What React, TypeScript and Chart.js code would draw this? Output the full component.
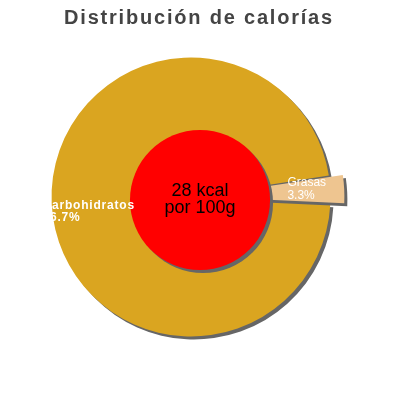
import { useEffect, useRef } from 'react'
import { Chart, registerables } from 'chart.js'

Chart.register(...registerables)

const titleText = 'Distribución de calorías'
const categories = ['Carbohidratos', 'Grasas']
const percentages = [96.7, 3.3]
const sliceColors = ['#daa520', '#eec590']
const sliceOffsets = [0, 31]
const centerLines = ['28 kcal', 'por 100g']

// label placement: fraction of the radius along the slice's mid angle, plus a vertical nudge
const labelRadius = [1.066, 0.692]
const labelNudge = [4, -6]
const labelFonts = [
  'bold 12px "Liberation Sans", Arial, sans-serif',
  '12px "Liberation Sans", Arial, sans-serif',
]
const labelSpacing = ['0.8px', '0px']

const SHADOW = '#666666'

const decorPlugin = {
  id: 'decor',
  beforeDatasetsDraw(chart: Chart) {
    const ctx = chart.ctx
    ctx.save()
    ctx.shadowColor = SHADOW
    ctx.shadowOffsetX = 3
    ctx.shadowOffsetY = 3
    ctx.shadowBlur = 0
  },
  afterDatasetsDraw(chart: Chart) {
    const ctx = chart.ctx
    ctx.restore()

    const arcs = chart.getDatasetMeta(0).data as any[]
    if (!arcs.length) return
    const outer = arcs[0].outerRadius
    const cx = chart.width / 2
    const cy = chart.height / 2

    // red disc in the middle
    ctx.save()
    ctx.shadowColor = SHADOW
    ctx.shadowOffsetX = 3
    ctx.shadowOffsetY = 3
    ctx.fillStyle = '#ff0000'
    ctx.beginPath()
    ctx.arc(cx, cy, outer * 0.502, 0, Math.PI * 2)
    ctx.fill()
    ctx.restore()

    ctx.save()
    ctx.fillStyle = '#000000'
    ctx.font = '18px "Liberation Sans", Arial, sans-serif'
    ctx.textAlign = 'center'
    ctx.textBaseline = 'alphabetic'
    ctx.fillText(centerLines[0], cx, cy - 4)
    ctx.fillText(centerLines[1], cx, cy + 13)
    ctx.restore()

    // slice labels
    arcs.forEach((arc, i) => {
      const { x, y, startAngle, endAngle, outerRadius } = arc.getProps(
        ['x', 'y', 'startAngle', 'endAngle', 'outerRadius'],
        true
      )
      const mid = (startAngle + endAngle) / 2
      const r = outerRadius * labelRadius[i]
      const lx = x + Math.cos(mid) * r
      const ly = y + Math.sin(mid) * r + labelNudge[i]
      ctx.save()
      ctx.fillStyle = '#ffffff'
      ctx.font = labelFonts[i]
      ;(ctx as any).letterSpacing = labelSpacing[i]
      ctx.textAlign = 'left'
      ctx.textBaseline = 'alphabetic'
      ctx.fillText(categories[i], lx, ly)
      ctx.fillText(percentages[i].toFixed(1) + '%', lx, ly + 12.5)
      ctx.restore()
    })
  },
  afterDraw(chart: Chart) {
    const ctx = chart.ctx
    ctx.save()
    ctx.fillStyle = '#444444'
    ctx.font = 'bold 20px "Liberation Sans", Arial, sans-serif'
    ;(ctx as any).letterSpacing = '1.8px'
    ctx.textAlign = 'center'
    ctx.textBaseline = 'alphabetic'
    ctx.fillText(titleText, chart.width / 2 - 1, 24)
    ctx.restore()
  },
}

export default function App() {
  const chartRef = useRef<HTMLCanvasElement>(null)
  const chartInstance = useRef<Chart | null>(null)

  useEffect(() => {
    if (!chartRef.current) return
    if (chartInstance.current) chartInstance.current.destroy()

    const ctx = chartRef.current.getContext('2d')
    if (!ctx) return

    chartInstance.current = new Chart(ctx, {
      type: 'pie',
      data: {
        labels: categories,
        datasets: [
          {
            data: percentages,
            backgroundColor: sliceColors,
            borderWidth: 0,
            hoverBorderWidth: 0,
            offset: sliceOffsets,
            hoverOffset: 0,
          },
        ],
      },
      options: {
        responsive: true,
        maintainAspectRatio: false,
        animation: false,
        events: [],
        rotation: 93,
        layout: {
          padding: { left: 36, right: 54, top: 42, bottom: 48 },
        },
        plugins: {
          legend: { display: false },
          title: { display: false },
          tooltip: { enabled: false },
        },
      },
      plugins: [decorPlugin],
    })

    return () => {
      if (chartInstance.current) {
        chartInstance.current.destroy()
        chartInstance.current = null
      }
    }
  }, [])

  return (
    <div style={{ position: 'absolute', left: 0, top: 0, width: 400, height: 400 }}>
      <canvas ref={chartRef} />
    </div>
  )
}
